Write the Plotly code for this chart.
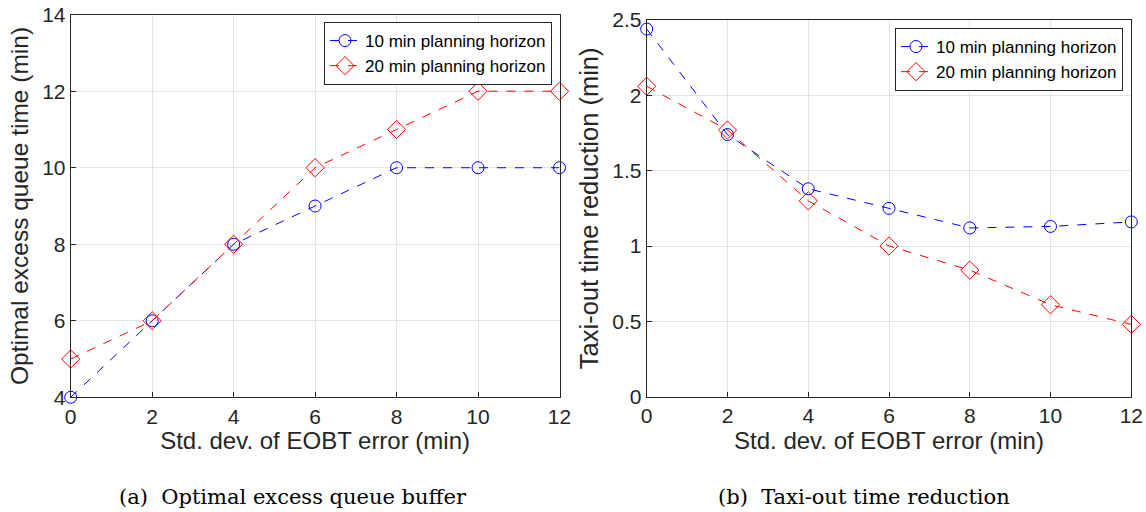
import plotly.graph_objects as go

x_vals = [0, 2, 4, 6, 8, 10, 12]
queue_10 = [4, 6, 8, 9, 10, 10, 10]
queue_20 = [5, 6, 8, 10, 11, 12, 12]
taxi_10 = [2.44, 1.74, 1.38, 1.25, 1.12, 1.13, 1.16]
taxi_20 = [2.06, 1.77, 1.30, 1.00, 0.84, 0.61, 0.48]
names = ["10 min planning horizon", "20 min planning horizon"]
W, H = 1146, 512

fig = go.Figure()
font_sans = "Liberation Sans, Arial, sans-serif"
font_serif = "DejaVu Serif, Liberation Serif, serif"
txt = "#262626"

def add_pair(y10, y20, xa, ya, leg):
    fig.add_trace(go.Scatter(x=x_vals, y=y10, name=names[0], mode="lines+markers",
        line=dict(color="#0000ff", width=1, dash="dash"), cliponaxis=False,
        marker=dict(symbol="circle-open", size=12, color="#0000ff", line=dict(width=1)),
        xaxis=xa, yaxis=ya, legend=leg))
    fig.add_trace(go.Scatter(x=x_vals, y=y20, name=names[1], mode="lines+markers",
        line=dict(color="#ff0000", width=1, dash="dash"), cliponaxis=False,
        marker=dict(symbol="diamond-open", size=14, color="#ff0000", line=dict(width=1)),
        xaxis=xa, yaxis=ya, legend=leg))

add_pair(queue_10, queue_20, "x", "y", "legend")
add_pair(taxi_10, taxi_20, "x2", "y2", "legend2")

def px_x(p):
    return p / W
def px_y(p):
    return 1 - p / H

axis_common = dict(showline=True, linecolor=txt, linewidth=1, mirror=True,
                   ticks="inside", ticklen=5, tickcolor=txt, automargin=False,
                   showgrid=True, gridcolor="#e3e3e3", gridwidth=1, zeroline=False,
                   tickfont=dict(family=font_sans, size=21, color=txt))

xtitle = dict(text="Std. dev. of EOBT error (min)", standoff=4,
              font=dict(family=font_sans, size=24, color=txt))

fig.update_layout(
    width=W, height=H, margin=dict(l=0, r=0, t=0, b=0, autoexpand=False),
    paper_bgcolor="white", plot_bgcolor="white",
    xaxis=dict(domain=[px_x(70.7), px_x(559.5)], range=[0, 12], tickvals=x_vals,
               anchor="y", title=xtitle, **axis_common),
    yaxis=dict(domain=[px_y(397.3), px_y(14.7)], range=[4, 14], tickvals=[4, 6, 8, 10, 12, 14],
               anchor="x", **axis_common,
               title=dict(text="Optimal excess queue time (min)", standoff=6,
                          font=dict(family=font_sans, size=24.5, color=txt))),
    xaxis2=dict(domain=[px_x(646.7), px_x(1131.3)], range=[0, 12], tickvals=x_vals,
                anchor="y2", title=xtitle, **axis_common),
    yaxis2=dict(domain=[px_y(396.7), px_y(20)], range=[0, 2.5],
                tickvals=[0, 0.5, 1, 1.5, 2, 2.5], ticktext=["0", "0.5", "1", "1.5", "2", "2.5"],
                anchor="x2", **axis_common,
                title=dict(text="Taxi-out time reduction (min)", standoff=6,
                           font=dict(family=font_sans, size=25.5, color=txt))),
    legend=dict(x=px_x(552), y=px_y(22), xanchor="right", yanchor="top",
                bgcolor="white", bordercolor=txt, borderwidth=1,
                font=dict(family=font_sans, size=17, color="black"),
                tracegroupgap=0, itemwidth=30),
    legend2=dict(x=px_x(1123), y=px_y(28), xanchor="right", yanchor="top",
                 bgcolor="white", bordercolor=txt, borderwidth=1,
                 font=dict(family=font_sans, size=17, color="black"),
                 tracegroupgap=0, itemwidth=30),
    showlegend=True,
)

fig.add_annotation(text="(a)  Optimal excess queue buffer", x=px_x(293), y=px_y(497),
                   xref="paper", yref="paper", showarrow=False, xanchor="center", yanchor="middle",
                   font=dict(family=font_serif, size=21, color="black"))
fig.add_annotation(text="(b)  Taxi-out time reduction", x=px_x(864), y=px_y(497),
                   xref="paper", yref="paper", showarrow=False, xanchor="center", yanchor="middle",
                   font=dict(family=font_serif, size=21, color="black"))

fig.write_html("out.html")
